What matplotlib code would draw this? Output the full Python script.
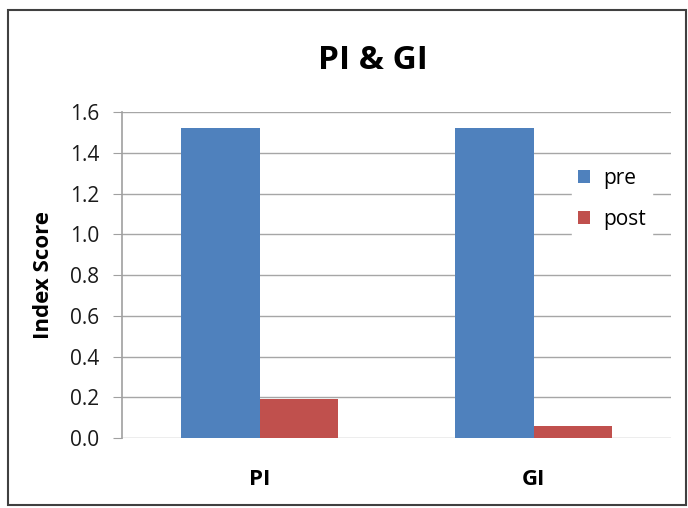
import numpy as np
import matplotlib.pyplot as plt
from matplotlib.patches import Rectangle

categories = ['PI', 'GI']
pre = [1.52, 1.52]
post = [0.19, 0.06]
yticks = [0.0, 0.2, 0.4, 0.6, 0.8, 1.0, 1.2, 1.4, 1.6]

plt.rcParams['font.family'] = ['Open Sans', 'DejaVu Sans']

fig = plt.figure(figsize=(6.88, 5.08), dpi=100)
# outer chart frame
fig.patches.append(Rectangle((0.0116, 0.005), 0.985, 0.975, transform=fig.transFigure,
                             fill=False, edgecolor='#404040', linewidth=1.5))

ax = fig.add_axes([0.178, 0.1378, 0.797, 0.6417])
x = np.arange(len(categories))
w = 0.287
ax.bar(x - w/2, pre, w, color='#4F81BD', label='pre', zorder=3)
ax.bar(x + w/2, post, w, color='#C0504D', label='post', zorder=3)

ax.set_xlim(-0.5, 1.5)
ax.set_ylim(0, 1.6)
ax.set_yticks(yticks)
ax.set_yticklabels(['%.1f' % v for v in yticks], fontsize=15, color='#1a1a1a')
ax.set_xticks(x)
ax.set_xticklabels(categories, fontsize=16, fontweight='bold')
ax.tick_params(axis='x', length=0, pad=22)
ax.tick_params(axis='y', length=6.5, color='#a0a0a0', pad=10)
ax.grid(axis='y', color='#a6a6a6', linewidth=1, zorder=0)
for s in ['top', 'right', 'bottom']:
    ax.spines[s].set_visible(False)
ax.spines['left'].set_color('#a0a0a0')
ax.spines['left'].set_linewidth(1.2)

ax.set_ylabel('Index Score', fontsize=16, fontweight='bold', labelpad=12)
ax.set_title('PI & GI', fontsize=24, fontweight='bold', pad=31, x=0.456)

leg = ax.legend(loc='upper left', bbox_to_anchor=(0.80, 0.88), frameon=True,
                fontsize=15, handlelength=0.6, handleheight=0.6, labelspacing=0.95,
                borderpad=0.3, handletextpad=0.6, fancybox=False)
leg.get_frame().set_edgecolor('white')
leg.get_frame().set_facecolor('white')
leg.get_frame().set_alpha(1)
leg.set_zorder(5)

fig.savefig('out.png', dpi=100)
